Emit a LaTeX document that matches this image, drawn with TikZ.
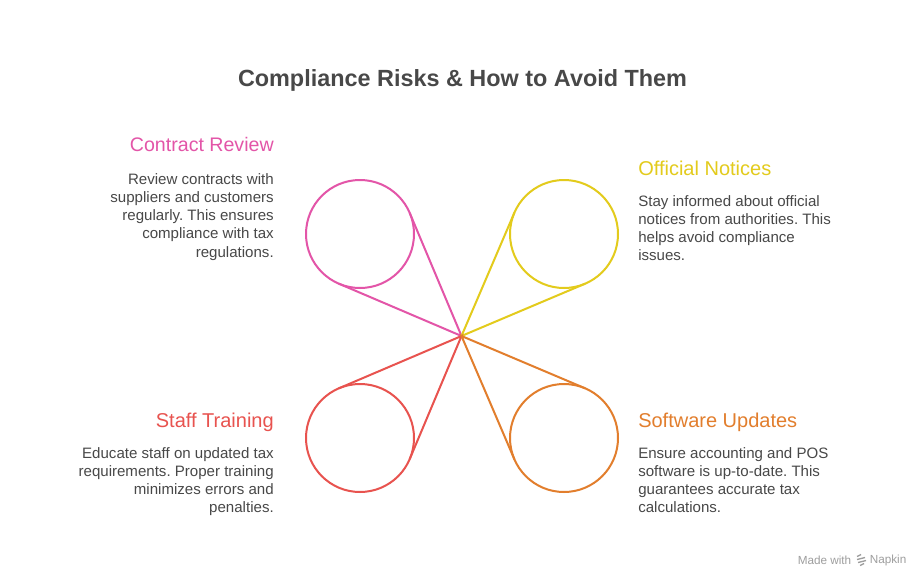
\documentclass[tikz,border=0pt]{standalone}
\usepackage{fontspec}
\setmainfont{Liberation Sans}
\usetikzlibrary{calc}
\definecolor{cpink}{HTML}{E355A8}
\definecolor{cyellow}{HTML}{E3CB1C}
\definecolor{cred}{HTML}{E8534F}
\definecolor{corange}{HTML}{E27E2D}
\definecolor{ink}{HTML}{484848}
\tikzset{
  ring/.style={circle,draw=#1,line width=1.5pt,minimum size=81pt,inner sep=0pt,outer sep=0pt},
  spoke/.style={draw=#1,line width=1.5pt,line cap=round},
  headtext/.style={font=\fontsize{15}{18}\selectfont,text=#1,inner sep=0pt},
  bodyL/.style={font=\frenchspacing\fontsize{11.3}{13.7}\selectfont,text=ink,inner sep=0pt,align=left,anchor=north west},
  bodyR/.style={font=\frenchspacing\fontsize{11.3}{13.7}\selectfont,text=ink,inner sep=0pt,align=right,anchor=north east},
}
\begin{document}
\begin{tikzpicture}[x=0.75pt,y=-0.75pt]
\useasboundingbox (0,0) rectangle (924,582);
\fill[white] (0,0) rectangle (924,582);
\node[font=\bfseries\fontsize{17.55}{22}\selectfont,text=ink,inner sep=0pt] (title) at (462.5,80.5) {Compliance Risks \& How to Avoid Them};

\coordinate (hub) at (461.5,336);
\node[ring=cpink] (c1) at (360,234) {};
\node[ring=cyellow] (c2) at (564,234) {};
\node[ring=cred] (c3) at (360,438) {};
\node[ring=corange] (c4) at (564,438) {};

\draw[spoke=cpink] (tangent cs:node=c1,point={(hub)},solution=1) -- (hub) -- (tangent cs:node=c1,point={(hub)},solution=2);
\draw[spoke=cyellow] (tangent cs:node=c2,point={(hub)},solution=1) -- (hub) -- (tangent cs:node=c2,point={(hub)},solution=2);
\draw[spoke=cred] (tangent cs:node=c3,point={(hub)},solution=1) -- (hub) -- (tangent cs:node=c3,point={(hub)},solution=2);
\draw[spoke=corange] (tangent cs:node=c4,point={(hub)},solution=1) -- (hub) -- (tangent cs:node=c4,point={(hub)},solution=2);

\node[headtext=cpink,font=\fontsize{14.7}{18}\selectfont,anchor=east] (h1) at (274,144) {Contract Review};
\node[bodyR] (b1) at (274,173) {Review contracts with\\suppliers and customers\\regularly. This ensures\\compliance with tax\\regulations.};

\node[headtext=cyellow,anchor=west] (h2) at (638,168) {Official Notices};
\node[bodyL] (b2) at (638,195) {Stay informed about official\\notices from authorities. This\\helps avoid compliance\\issues.};

\node[headtext=cred,anchor=east] (h3) at (274,422) {Staff Training};
\node[bodyR] (b3) at (274,447) {Educate staff on updated tax\\requirements. Proper training\\minimizes errors and\\penalties.};

\node[headtext=corange,anchor=west] (h4) at (638,422) {Software Updates};
\node[bodyL] (b4) at (638,447) {Ensure accounting and POS\\software is up-to-date. This\\guarantees accurate tax\\calculations.};

\node[font=\fontsize{8.8}{10}\selectfont,text=black!38,inner sep=0pt,anchor=east] (m1) at (851.5,560.5) {Made with};
\node[font=\fontsize{8.8}{10}\selectfont,text=black!38,inner sep=0pt,anchor=west] (m2) at (869.5,560.5) {Napkin};
\foreach \yy/\xa/\xb in {555.5/857/861,558.5/857/865,561.5/858/866,564.5/860/864}
  \draw[black!38,line width=1pt] (\xa,\yy+1) -- (\xb,\yy-1);
\end{tikzpicture}
\end{document}
